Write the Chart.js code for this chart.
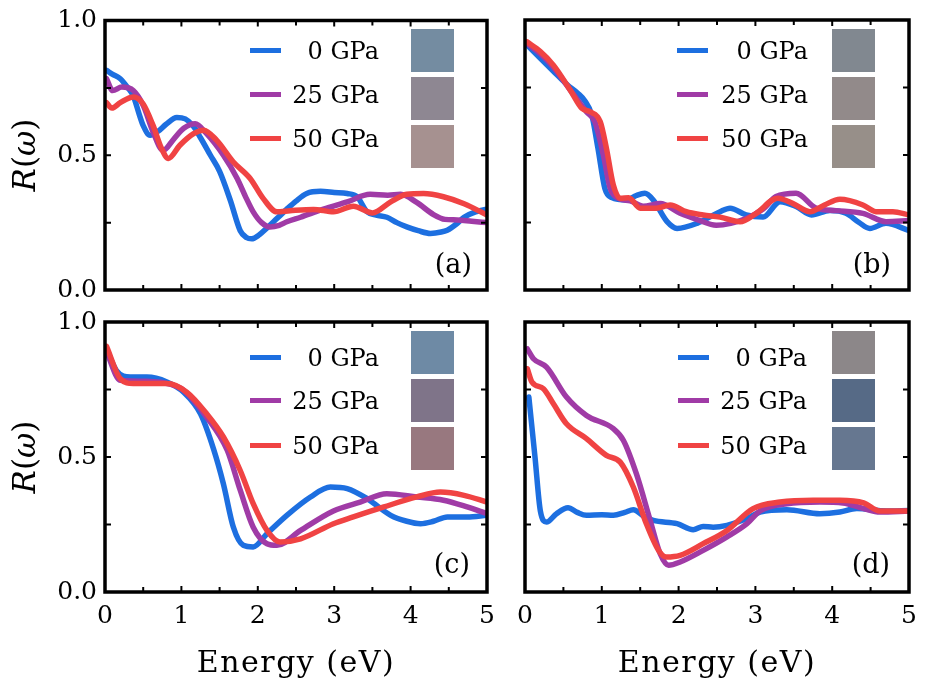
<!DOCTYPE html>
<html>
<head>
<meta charset="utf-8">
<script src="https://cdn.jsdelivr.net/npm/chart.js@4/dist/chart.umd.min.js"></script>
<style>
html,body{margin:0;padding:0;background:#fff;}
#fig{position:relative;width:926px;height:694px;overflow:hidden;font-family:"DejaVu Serif",serif;color:#000;background:#fff;}
#fig canvas{position:absolute;}
.lg-line{position:absolute;height:5px;width:31px;}
.lg-text{position:absolute;font-size:24px;line-height:28px;height:28px;text-align:right;white-space:nowrap;}
.sw{position:absolute;width:43px;height:43px;}
.plabel{position:absolute;font-size:27px;line-height:32px;white-space:nowrap;}
.xtitle{position:absolute;font-size:30px;line-height:36px;letter-spacing:1.5px;white-space:nowrap;transform:translateX(-50%);}
.ytitle{position:absolute;width:120px;height:36px;font-size:31px;line-height:36px;text-align:center;white-space:nowrap;transform:rotate(-90deg);}
</style>
</head>
<body>
<div id="fig"></div>
<script>
// ---------- data (Energy in eV, reflectivity R) ----------
const legendLabels = ['0 GPa', '25 GPa', '50 GPa'];
const panelLabels = ['(a)', '(b)', '(c)', '(d)'];
const xTickValues = [0, 1, 2, 3, 4, 5];
const yTickValues = [0.0, 0.5, 1.0];
const xTitle = 'Energy (eV)';

const a0 = [[0.02,0.815],[0.1,0.80],[0.2,0.784],[0.3,0.75],[0.37,0.72],[0.45,0.65],[0.5,0.61],[0.59,0.574],[0.7,0.59],[0.8,0.615],[0.94,0.64],[1.05,0.635],[1.15,0.61],[1.25,0.565],[1.38,0.50],[1.5,0.44],[1.64,0.333],[1.77,0.22],[1.85,0.195],[1.92,0.19],[2.02,0.205],[2.12,0.23],[2.25,0.265],[2.38,0.30],[2.5,0.33],[2.64,0.358],[2.82,0.366],[3.0,0.362],[3.17,0.358],[3.3,0.346],[3.43,0.29],[3.55,0.278],[3.69,0.27],[3.82,0.25],[3.95,0.234],[4.1,0.22],[4.26,0.21],[4.4,0.215],[4.48,0.222],[4.6,0.245],[4.7,0.27],[4.85,0.29],[5.0,0.30]];
const a25 = [[0.02,0.784],[0.1,0.74],[0.22,0.753],[0.37,0.74],[0.5,0.685],[0.63,0.586],[0.76,0.518],[0.9,0.56],[1.03,0.60],[1.18,0.617],[1.33,0.58],[1.55,0.50],[1.73,0.414],[1.85,0.34],[1.94,0.29],[2.05,0.25],[2.16,0.234],[2.28,0.24],[2.38,0.253],[2.56,0.27],[2.86,0.30],[3.17,0.327],[3.47,0.355],[3.7,0.352],[3.87,0.355],[4.08,0.325],[4.3,0.28],[4.45,0.262],[4.61,0.26],[4.8,0.255],[5.0,0.25]];
const a50 = [[0.02,0.695],[0.09,0.675],[0.2,0.695],[0.37,0.716],[0.5,0.69],[0.63,0.61],[0.74,0.525],[0.83,0.488],[0.98,0.537],[1.16,0.58],[1.29,0.593],[1.46,0.556],[1.68,0.475],[1.9,0.414],[2.07,0.34],[2.25,0.29],[2.42,0.294],[2.73,0.299],[2.99,0.29],[3.25,0.311],[3.5,0.286],[3.74,0.327],[3.95,0.355],[4.17,0.358],[4.43,0.346],[4.7,0.32],[5.0,0.278]];

const b0 = [[0.02,0.91],[0.2,0.858],[0.37,0.81],[0.55,0.76],[0.69,0.728],[0.78,0.70],[0.87,0.648],[0.95,0.525],[1.04,0.376],[1.13,0.342],[1.32,0.333],[1.45,0.35],[1.56,0.358],[1.67,0.333],[1.85,0.253],[1.98,0.228],[2.24,0.247],[2.54,0.29],[2.67,0.303],[2.88,0.278],[3.1,0.27],[3.32,0.327],[3.53,0.309],[3.73,0.278],[3.97,0.294],[4.18,0.284],[4.35,0.25],[4.49,0.228],[4.7,0.247],[5.0,0.22]];
const b25 = [[0.02,0.915],[0.2,0.875],[0.37,0.825],[0.63,0.725],[0.80,0.66],[0.91,0.623],[1.02,0.50],[1.11,0.376],[1.21,0.34],[1.37,0.33],[1.54,0.31],[1.76,0.32],[2.02,0.284],[2.25,0.26],[2.49,0.24],[2.88,0.265],[3.1,0.30],[3.27,0.346],[3.53,0.358],[3.79,0.303],[4.05,0.294],[4.4,0.284],[4.7,0.253],[5.0,0.257]];
const b50 = [[0.02,0.92],[0.2,0.883],[0.37,0.833],[0.59,0.74],[0.74,0.673],[0.85,0.66],[0.98,0.623],[1.06,0.525],[1.15,0.389],[1.24,0.34],[1.35,0.342],[1.5,0.303],[1.71,0.303],[1.89,0.315],[2.1,0.29],[2.32,0.278],[2.54,0.27],[2.8,0.253],[3.01,0.284],[3.29,0.34],[3.49,0.32],[3.71,0.29],[3.9,0.315],[4.1,0.336],[4.4,0.315],[4.57,0.29],[4.79,0.29],[5.0,0.278]];

const c0 = [[0.02,0.90],[0.15,0.82],[0.33,0.796],[0.55,0.796],[0.81,0.778],[1.03,0.74],[1.25,0.66],[1.42,0.53],[1.55,0.40],[1.68,0.24],[1.81,0.173],[1.94,0.167],[2.12,0.216],[2.38,0.284],[2.69,0.352],[2.95,0.389],[3.17,0.383],[3.43,0.346],[3.74,0.284],[3.95,0.262],[4.13,0.253],[4.3,0.262],[4.48,0.278],[4.74,0.278],[5.0,0.284]];
const c25 = [[0.02,0.89],[0.2,0.784],[0.59,0.78],[0.85,0.77],[1.03,0.747],[1.33,0.648],[1.6,0.525],[1.77,0.377],[1.94,0.24],[2.12,0.179],[2.25,0.173],[2.56,0.228],[2.99,0.30],[3.34,0.333],[3.69,0.364],[4.08,0.352],[4.43,0.34],[4.74,0.315],[5.0,0.29]];
const c50 = [[0.02,0.91],[0.2,0.79],[0.37,0.772],[0.81,0.772],[1.07,0.74],[1.33,0.66],[1.55,0.574],[1.77,0.45],[1.94,0.327],[2.12,0.228],[2.29,0.185],[2.56,0.197],[2.99,0.253],[3.25,0.278],[3.65,0.315],[4.08,0.352],[4.39,0.37],[4.7,0.358],[5.0,0.333]];

const d0 = [[0.05,0.722],[0.13,0.5],[0.2,0.30],[0.28,0.259],[0.41,0.29],[0.56,0.312],[0.68,0.295],[0.80,0.284],[1.0,0.286],[1.15,0.284],[1.3,0.295],[1.41,0.305],[1.55,0.28],[1.67,0.265],[1.98,0.253],[2.19,0.231],[2.32,0.243],[2.45,0.24],[2.63,0.247],[2.89,0.272],[3.06,0.296],[3.41,0.305],[3.84,0.29],[4.1,0.296],[4.32,0.309],[4.71,0.30],[5.0,0.302]];
const d25 = [[0.03,0.90],[0.11,0.864],[0.28,0.833],[0.54,0.722],[0.80,0.654],[1.15,0.605],[1.28,0.562],[1.45,0.438],[1.63,0.265],[1.76,0.142],[1.87,0.099],[2.02,0.111],[2.32,0.154],[2.63,0.204],[2.89,0.253],[3.06,0.30],[3.41,0.327],[3.84,0.333],[4.14,0.33],[4.41,0.309],[4.62,0.296],[5.0,0.30]];
const d50 = [[0.03,0.827],[0.09,0.778],[0.24,0.753],[0.37,0.697],[0.54,0.623],[0.80,0.568],[1.06,0.506],[1.24,0.481],[1.41,0.389],[1.58,0.253],[1.74,0.154],[1.84,0.13],[2.02,0.136],[2.32,0.179],[2.63,0.228],[2.97,0.309],[3.32,0.333],[3.75,0.34],[4.1,0.34],[4.41,0.33],[4.62,0.30],[5.0,0.30]];

const swatchA = ['#748ca1', '#8e8792', '#a69190'];
const swatchB = ['#818890', '#928a8a', '#978f89'];
const swatchC = ['#6e8aa5', '#7f7489', '#98787f'];
const swatchD = ['#8c8789', '#566a86', '#667790'];

// ---------- styling / layout ----------
const seriesColors = ['#1d6fe0', '#a03ba6', '#f04343'];
const FONT = 'DejaVu Serif';

const panels = [
  {data:[a0,a25,a50], sw:swatchA, label:panelLabels[0], cv:{left:0,top:0,w:510,h:320},  area:{left:105,top:20,right:487,bottom:290}, showX:false, showY:true,  rows:[50,94,138],   lineX:250, textRight:379, swX:411, swTop:[29,77,125],  lab:{right:472, cy:265}},
  {data:[b0,b25,b50], sw:swatchB, label:panelLabels[1], cv:{left:490,top:0,w:436,h:320}, area:{left:525,top:20,right:909,bottom:290}, showX:false, showY:false, rows:[50,94,138],   lineX:677, textRight:808, swX:832, swTop:[29,77,125],  lab:{right:891, cy:265}},
  {data:[c0,c25,c50], sw:swatchC, label:panelLabels[2], cv:{left:0,top:300,w:510,h:394}, area:{left:105,top:322,right:487,bottom:592}, showX:true, showY:true,   rows:[357,400,445], lineX:250, textRight:379, swX:411, swTop:[331,379,427], lab:{right:470, cy:565}},
  {data:[d0,d25,d50], sw:swatchD, label:panelLabels[3], cv:{left:490,top:300,w:436,h:394},area:{left:525,top:322,right:909,bottom:592}, showX:true, showY:false,  rows:[357,400,445], lineX:678, textRight:807, swX:832, swTop:[331,379,427], lab:{right:890, cy:565}}
];

const xFrameTicks = [0,0.5,1,1.5,2,2.5,3,3.5,4,4.5,5];
const yFrameTicks = [0,0.25,0.5,0.75,1];

const frameTicks = {
  id: 'frameTicks',
  afterDatasetsDraw(chart) {
    const {ctx, chartArea:a, scales:{x, y}} = chart;
    ctx.save();
    ctx.strokeStyle = '#000';
    ctx.lineWidth = 2;
    ctx.beginPath();
    xFrameTicks.forEach(v => {
      const px = x.getPixelForValue(v);
      const len = Number.isInteger(v) ? 6 : 5;
      ctx.moveTo(px, a.bottom); ctx.lineTo(px, a.bottom - len);
      ctx.moveTo(px, a.top); ctx.lineTo(px, a.top + len);
    });
    yFrameTicks.forEach(v => {
      const py = y.getPixelForValue(v);
      const len = 6;
      ctx.moveTo(a.left, py); ctx.lineTo(a.left + len, py);
      ctx.moveTo(a.right, py); ctx.lineTo(a.right - len, py);
    });
    ctx.stroke();
    ctx.lineWidth = 3.5;
    ctx.strokeRect(a.left, a.top, a.right - a.left, a.bottom - a.top);
    ctx.restore();
  }
};

const fig = document.getElementById('fig');

function el(cls, styles, html) {
  const d = document.createElement('div');
  d.className = cls;
  Object.assign(d.style, styles);
  if (html !== undefined) d.innerHTML = html;
  fig.appendChild(d);
  return d;
}

panels.forEach(p => {
  const cv = document.createElement('canvas');
  cv.width = p.cv.w; cv.height = p.cv.h;
  Object.assign(cv.style, {left:p.cv.left+'px', top:p.cv.top+'px', width:p.cv.w+'px', height:p.cv.h+'px'});
  fig.appendChild(cv);
  const yW = p.area.left - p.cv.left;
  const xH = p.cv.top + p.cv.h - p.area.bottom;
  new Chart(cv, {
    type: 'line',
    data: {
      datasets: p.data.map((d, i) => ({
        label: legendLabels[i],
        data: d.map(([x, y]) => ({x, y})),
        borderColor: seriesColors[i],
        borderWidth: 5.5,
        pointRadius: 0,
        fill: false,
        cubicInterpolationMode: 'monotone',
        borderCapStyle: 'round',
        borderJoinStyle: 'round',
        order: 3 - i
      }))
    },
    options: {
      responsive: false,
      animation: false,
      devicePixelRatio: 1,
      layout: {padding: {left:0, top:p.area.top - p.cv.top, right:p.cv.left + p.cv.w - p.area.right, bottom:0}},
      plugins: {legend:{display:false}, tooltip:{enabled:false}},
      scales: {
        x: {
          type: 'linear', min: 0, max: 5,
          grid: {display:false, drawTicks:false},
          border: {display:false},
          afterBuildTicks: s => { s.ticks = xTickValues.map(v => ({value:v})); },
          ticks: {display:p.showX, color:'#000', font:{family:FONT, size:25}, padding:9, maxRotation:0, autoSkip:false, callback: v => String(v)},
          afterFit: s => { s.height = xH; }
        },
        y: {
          type: 'linear', min: 0, max: 1,
          grid: {display:false, drawTicks:false},
          border: {display:false},
          afterBuildTicks: s => { s.ticks = yTickValues.map(v => ({value:v})); },
          ticks: {display:p.showY, color:'#000', font:{family:FONT, size:25, lineHeight:1}, padding:8, autoSkip:false, callback: v => Number(v).toFixed(1)},
          afterFit: s => { s.width = yW; }
        }
      }
    },
    plugins: [frameTicks]
  });

  // legend
  legendLabels.forEach((t, i) => {
    el('lg-line', {left:p.lineX+'px', top:(p.rows[i]-2.5)+'px', background:seriesColors[i]});
    el('lg-text', {right:(926 - p.textRight)+'px', top:(p.rows[i]-13)+'px'}, t);
    el('sw', {left:p.swX+'px', top:p.swTop[i]+'px', background:p.sw[i]});
  });
  // panel label
  el('plabel', {right:(926 - p.lab.right)+'px', top:(p.lab.cy - 17)+'px'}, p.label);
  // axis titles
  if (p.showY) {
    const cy = (p.area.top + p.area.bottom) / 2;
    el('ytitle', {left:(24-60)+'px', top:(cy-18)+'px'}, '<i>R</i>(<i>ω</i>)');
  }
  if (p.showX) {
    const cx = (p.area.left + p.area.right) / 2;
    el('xtitle', {left:cx+'px', top:'644px'}, xTitle);
  }
});
</script>
</body>
</html>
